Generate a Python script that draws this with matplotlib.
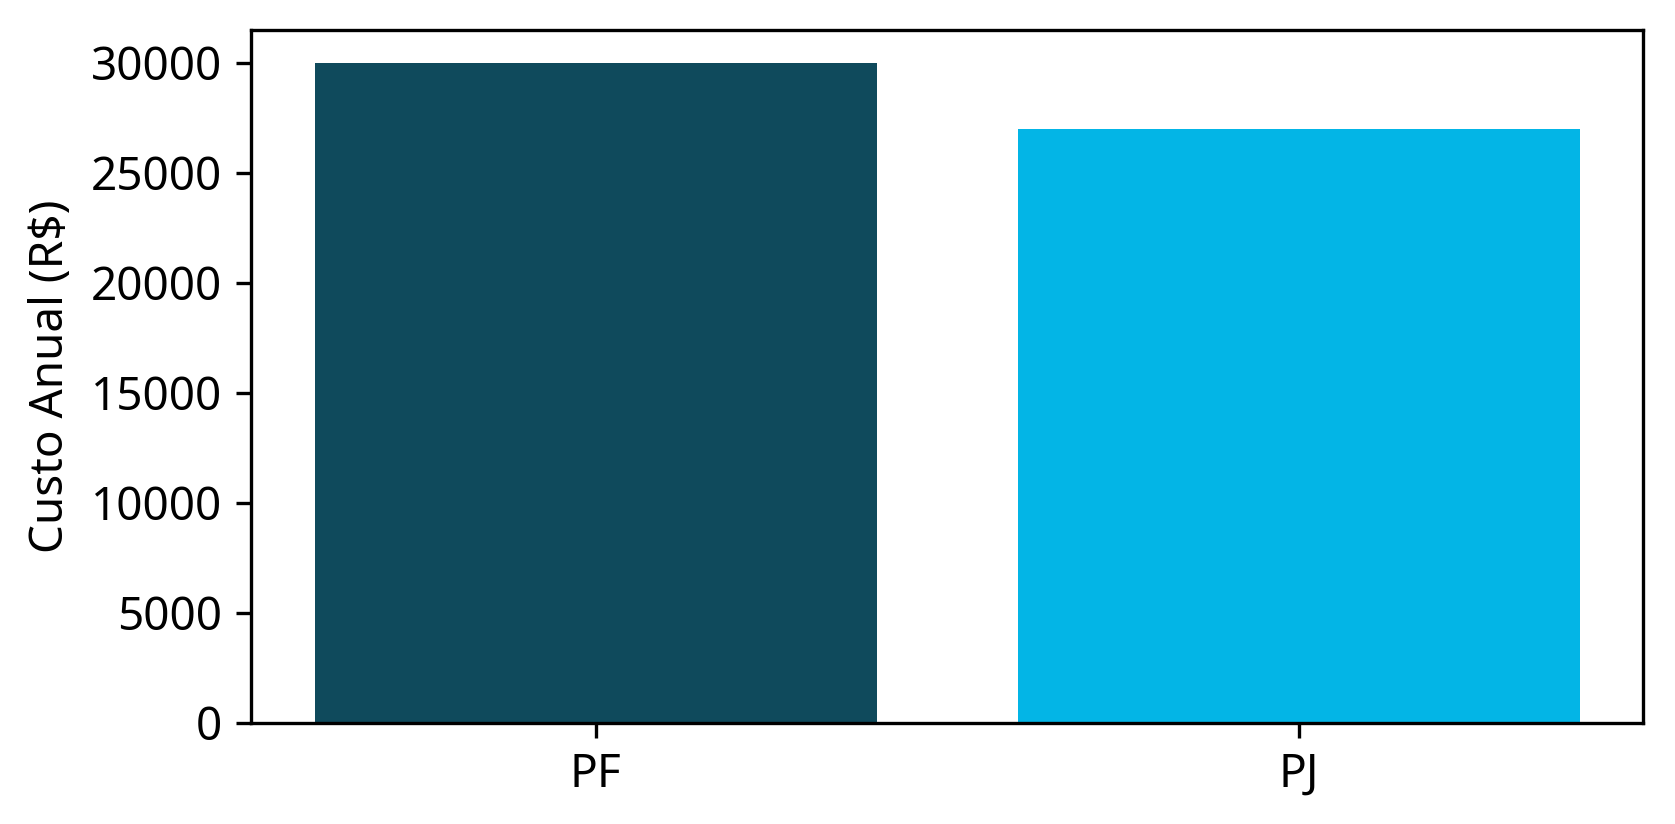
import numpy as np
import matplotlib.pyplot as plt

plt.rcParams['font.family'] = ['Noto Sans', 'DejaVu Sans']
plt.rcParams['font.size'] = 11

# dados
categorias = ["PF", "PJ"]
custos = [30000, 27000]
cores = ["#0F4A5C", "#03B5E6"]

fig, ax = plt.subplots(figsize=(1675 / 300, 824 / 300), dpi=300)
fig.subplots_adjust(left=0.150, right=0.981, top=0.964, bottom=0.123)

ax.bar(categorias, custos, color=cores)
ax.set_ylabel("Custo Anual (R$)")

fig.savefig("out.png", dpi=300)
